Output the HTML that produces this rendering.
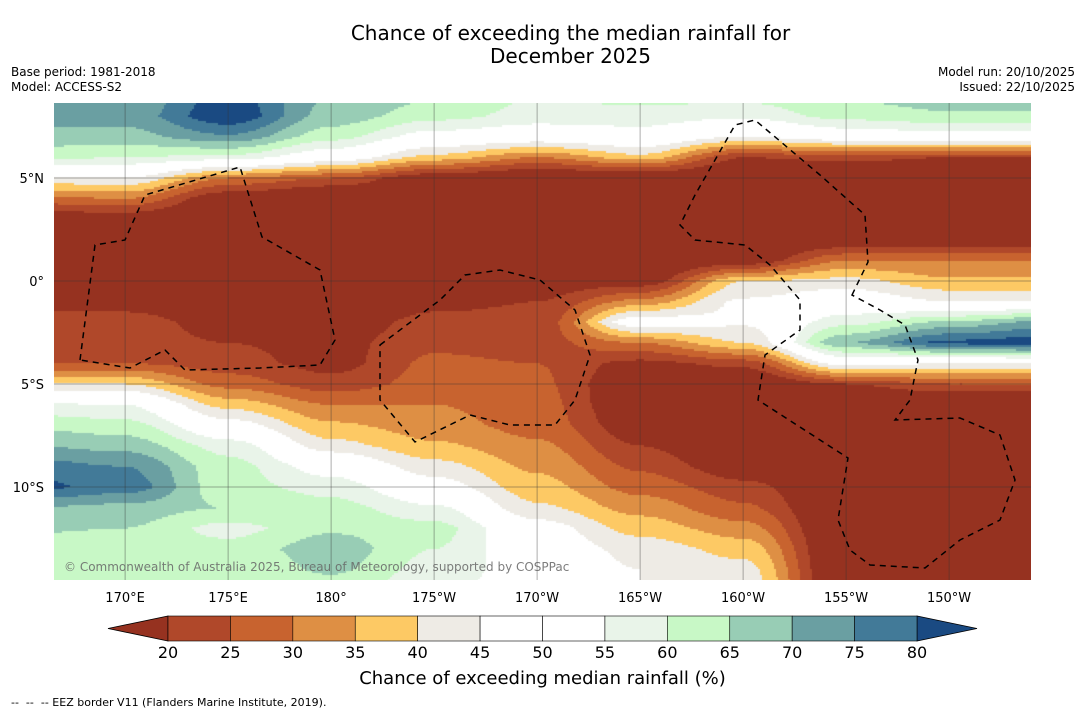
<!DOCTYPE html>
<html><head><meta charset="utf-8"><style>
body{margin:0;background:#fff;width:1085px;height:713px;overflow:hidden;font-family:"DejaVu Sans","Liberation Sans",sans-serif;position:relative}
.t{position:absolute;white-space:nowrap;color:#000}
svg text{font-family:"DejaVu Sans","Liberation Sans",sans-serif}
</style></head><body>
<div class="t" style="left:0;width:1141px;text-align:center;top:22px;font-size:20px;line-height:23px">Chance of exceeding the median rainfall for<br>December 2025</div>
<div class="t" style="left:11px;top:65px;font-size:12px;line-height:15px">Base period: 1981-2018<br>Model: ACCESS-S2</div>
<div class="t" style="right:10px;top:65px;font-size:12px;line-height:15px;text-align:right">Model run: 20/10/2025<br>Issued: 22/10/2025</div>
<canvas id="map" width="977" height="477" style="position:absolute;left:54px;top:103px"></canvas>
<svg id="ov" width="1085" height="713" style="position:absolute;left:0;top:0"></svg>
<div class="t" style="left:0;width:1085px;text-align:center;top:668px;font-size:18px">Chance of exceeding median rainfall (%)</div>
<div class="t" style="left:11px;top:696px;font-size:11px">--&nbsp; --&nbsp; -- EEZ border V11 (Flanders Marine Institute, 2019).</div>
<script>
const lons=[165,170,175,180,185,190,195,200,205,210,215]; // degrees east
const lats=[9,8,7,6,5,4,3,2,1,0,-1,-2,-3,-4,-5,-6,-7,-8,-9,-10,-11,-12,-13,-14,-15];
const col0=[70,72,68,62,44,28,15,12,12,14,18,22,22,25,40,56,64,70,78,82,70,66,62,62,62];
const col1=[70,72,68,60,45,30,15,12,12,14,18,22,22,25,40,55,62,68,75,78,68,65,62,62,62];
const col2=[82,84,74,58,30,15,12,12,12,14,16,18,20,22,28,38,48,58,62,62,65,58,62,60,60];
const col3=[70,68,62,50,25,12,12,12,12,12,14,16,18,18,22,30,36,42,52,58,62,64,68,66,62];
const col4=[66,62,52,38,15,12,12,12,12,14,18,22,24,26,27,30,32,36,42,48,56,62,60,58,56];
const col5=[60,58,50,30,12,12,12,12,12,16,20,22,23,25,26,27,28,31,34,37,41,48,50,52,52];
const col6=[62,58,52,38,12,12,12,12,12,16,32,50,30,18,14,14,16,20,24,28,33,38,43,45,45];
const col7=[62,56,45,20,12,12,12,12,15,40,46,46,40,22,12,12,12,12,16,22,26,32,38,42,44];
const col8=[66,62,50,22,12,12,12,14,30,42,50,58,70,48,20,12,12,12,12,12,12,12,12,12,12];
const col9=[68,64,52,20,12,12,12,15,30,36,45,66,82,45,25,12,12,12,12,12,12,12,12,12,12];
const col10=[68,64,52,20,12,12,12,15,30,36,45,72,84,45,25,12,12,12,12,12,12,12,12,12,12];
const cols=[col0,col1,col2,col3,col4,col5,col6,col7,col8,col9,col10];
const levels=[20,25,30,35,40,45,50,55,60,65,70,75,80];
const colors=["#963220","#b0482a","#c8632f","#de8f44","#fdc964","#eeebe5","#ffffff","#ffffff","#e9f4e9","#c8f8c6","#98cdb5","#6a9fa2","#427a98","#1a4a82"];
const ov=document.getElementById('ov');
const NS='http://www.w3.org/2000/svg';
const X0=54,Y0=103,W=977,H=477;
const lonMin=166.55,pxDeg=20.6,lat0Y=281;
const xOf=lon=>X0+(lon-lonMin)*pxDeg;
const yOf=lat=>lat0Y-lat*pxDeg;
function colorFor(v){let i=0;while(i<levels.length&&v>=levels[i])i++;return colors[i];}
function sm(t){return t*t*(3-2*t);}
function val(lon,lat){
  let fi=(lon-lons[0])/5, fj=(lats[0]-lat)/1;
  fi=Math.max(0,Math.min(lons.length-1.001,fi));fj=Math.max(0,Math.min(lats.length-1.001,fj));
  const i=Math.floor(fi),j=Math.floor(fj),a=sm(fi-i),b=fj-j;
  return cols[i][j]*(1-a)*(1-b)+cols[i+1][j]*a*(1-b)+cols[i][j+1]*(1-a)*b+cols[i+1][j+1]*a*b;
}
const ctx=document.getElementById('map').getContext('2d');
const S=2;
for(let py=0;py<H;py+=S)for(let px=0;px<W;px+=S){
  const lon=lonMin+(px+1)/pxDeg, lat=(lat0Y-(Y0+py+1))/pxDeg;
  ctx.fillStyle=colorFor(val(lon,lat));ctx.fillRect(px,py,S,S);
}
function el(tag,attrs,parent){const e=document.createElementNS(NS,tag);for(const k in attrs)e.setAttribute(k,attrs[k]);(parent||ov).appendChild(e);return e;}
const lonTicks=[170,175,180,185,190,195,200,205,210];
const lonLabels=["170°E","175°E","180°","175°W","170°W","165°W","160°W","155°W","150°W"];
const latTicks=[5,0,-5,-10];
const latLabels=["5°N","0°","5°S","10°S"];
lonTicks.forEach((l,k)=>{const x=xOf(l);
  const g=el('line',{x1:x,x2:x,y1:Y0,y2:Y0+H,stroke:'#333','stroke-width':0.5,'stroke-opacity':0.8});
  
  const t=el('text',{x:x,y:602,'text-anchor':'middle','font-size':13});t.textContent=lonLabels[k];
  });
latTicks.forEach((l,k)=>{const y=yOf(l);
  const g=el('line',{x1:X0,x2:X0+W,y1:y,y2:y,stroke:'#333','stroke-width':0.5,'stroke-opacity':0.8});
  
  const t=el('text',{x:44,y:y+5,'text-anchor':'end','font-size':13});t.textContent=latLabels[k];
  });
const eez=[
 "M80,360 L95,245 L125,240 L145,195 L240,167 L262,237 L320,270 L335,340 L320,365 L260,368 L185,370 L165,350 L130,368 Z",
 "M380,345 L440,300 L465,275 L500,270 L540,280 L575,310 L590,355 L575,400 L555,425 L510,425 L470,415 L415,442 L380,400 Z",
 "M852,295 L868,262 L865,215 L820,175 L755,120 L735,125 L695,195 L680,225 L695,240 L745,245 L770,265 L800,300 L800,330 L765,355 L758,400 L848,458 L838,520 L850,550 L870,565 L925,568 L960,540 L1000,520 L1015,480 L1000,435 L960,418 L895,420 L910,400 L918,360 L905,325 L880,310 Z"];
eez.forEach(d=>{const p=el('path',{d:d,fill:'none',stroke:'#000','stroke-width':1.5,'stroke-dasharray':'6,5'});
 });
const wm=el('text',{x:64,y:571,'font-size':12,fill:'#666','fill-opacity':0.85});wm.textContent="© Commonwealth of Australia 2025, Bureau of Meteorology, supported by COSPPac";

const cbX0=168,cbX1=917,cbY=616,cbH=25,segW=(cbX1-cbX0)/12;
const lt=el('polygon',{points:`${cbX0},${cbY} ${cbX0},${cbY+cbH} 108,${cbY+cbH/2}`,fill:colors[0],stroke:'#000','stroke-width':0.8});

const rt=el('polygon',{points:`${cbX1},${cbY} ${cbX1},${cbY+cbH} 977,${cbY+cbH/2}`,fill:colors[13],stroke:'#000','stroke-width':0.8});

for(let i=0;i<12;i++){const r=el('rect',{x:cbX0+i*segW,y:cbY,width:segW,height:cbH,fill:colors[i+1],stroke:'#000','stroke-width':0.6});
 }
levels.forEach((l,i)=>{const t=el('text',{x:cbX0+i*segW,y:658,'text-anchor':'middle','font-size':16});t.textContent=l;
 });
</script>
</body></html>
